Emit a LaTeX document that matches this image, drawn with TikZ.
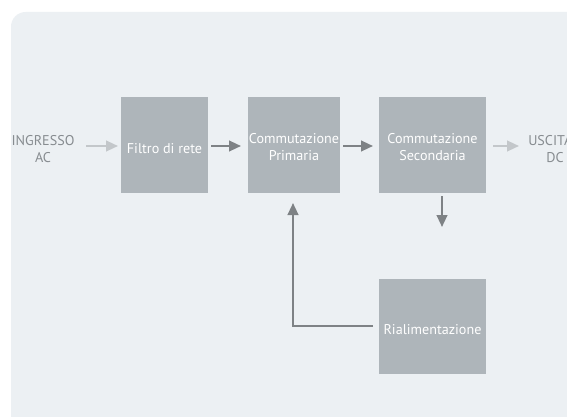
\documentclass[tikz,border=0pt]{standalone}
\usepackage{fontspec}
\setmainfont{PT Sans}
\usetikzlibrary{arrows.meta}
\definecolor{panelbg}{HTML}{ECF0F3}
\definecolor{blockfill}{HTML}{AEB5BA}
\definecolor{darkarrow}{HTML}{7E8285}
\definecolor{lightarrow}{HTML}{C3C7CA}
\definecolor{labeltext}{HTML}{878C90}
\begin{document}
\begin{tikzpicture}[x=0.75pt,y=-0.75pt,
  block/.style={fill=blockfill,draw=none,inner sep=0pt},
  blocktext/.style={text=white,align=center,
    font=\fontsize{10.6}{12.6}\selectfont,inner sep=0pt},
  iolabel/.style={text=labeltext,align=center,font=\fontsize{10.6}{12.6}\selectfont,inner sep=0pt},
  flow/.style={draw=darkarrow,line width=1.6pt,-{Triangle[length=9pt,width=8pt]}},
  faintflow/.style={draw=lightarrow,line width=1.6pt,-{Triangle[length=9pt,width=8pt]}}]
  \useasboundingbox (0,0) rectangle (567,417);
  \fill[white] (0,0) rectangle (567,417);
  \begin{scope}
    \clip (0,0) rectangle (567,417);
    % background panel, open towards the right and bottom edges
    \fill[panelbg,rounded corners=11pt] (11,12) rectangle (600,450);
  \end{scope}

  % blocks
  \node[block,minimum width=65.25pt,minimum height=72pt] (filtro) at (164.5,145) {};
  \node[block,minimum width=69pt,minimum height=72pt] (prim) at (294,145) {};
  \node[block,minimum width=80.25pt,minimum height=72pt] (sec) at (432.5,145) {};
  \node[block,minimum width=80.25pt,minimum height=71.25pt] (rial) at (432.5,326.5) {};

  % block captions, set a little below each block's centre
  \node[blocktext] (filtroT) at ([yshift=-2.5pt]filtro.center) {Filtro di rete};
  \node[blocktext] (primT) at ([yshift=-1.5pt]prim.center) {Commutazione\\Primaria};
  \node[blocktext] (secT) at ([yshift=-1.5pt]sec.center) {Commutazione\\Secondaria};
  \node[blocktext] (rialT) at ([yshift=-2.5pt]rial.center) {Rialimentazione};

  % input and output labels
  \node[iolabel] (in) at (43,149) {INGRESSO\\AC};
  \node[iolabel,anchor=west] (out) at (528,149) {USCITA\\\hphantom{U}DC};

  % connector anchors
  \coordinate (inA) at (86,146);
  \coordinate (inB) at (118,146);
  \coordinate (outA) at (493,146);
  \coordinate (outB) at (519,146);
  \coordinate (downA) at (442,196);
  \coordinate (downB) at (442,227);
  \coordinate (fbA) at (373,326);
  \coordinate (fbCorner) at (293,326);
  \coordinate (fbB) at (293,203);
  \coordinate (f1) at (211,146);
  \coordinate (p0) at (241,146);
  \coordinate (p1) at (343,146);
  \coordinate (s0) at (373,146);

  \draw[faintflow] (inA) -- (inB);
  \draw[flow] (f1) -- (p0);
  \draw[flow] (p1) -- (s0);
  \draw[faintflow] (outA) -- (outB);
  \draw[flow] (downA) -- (downB);
  \draw[flow] (fbA) -- (fbCorner) -- (fbB);
\end{tikzpicture}
\end{document}
